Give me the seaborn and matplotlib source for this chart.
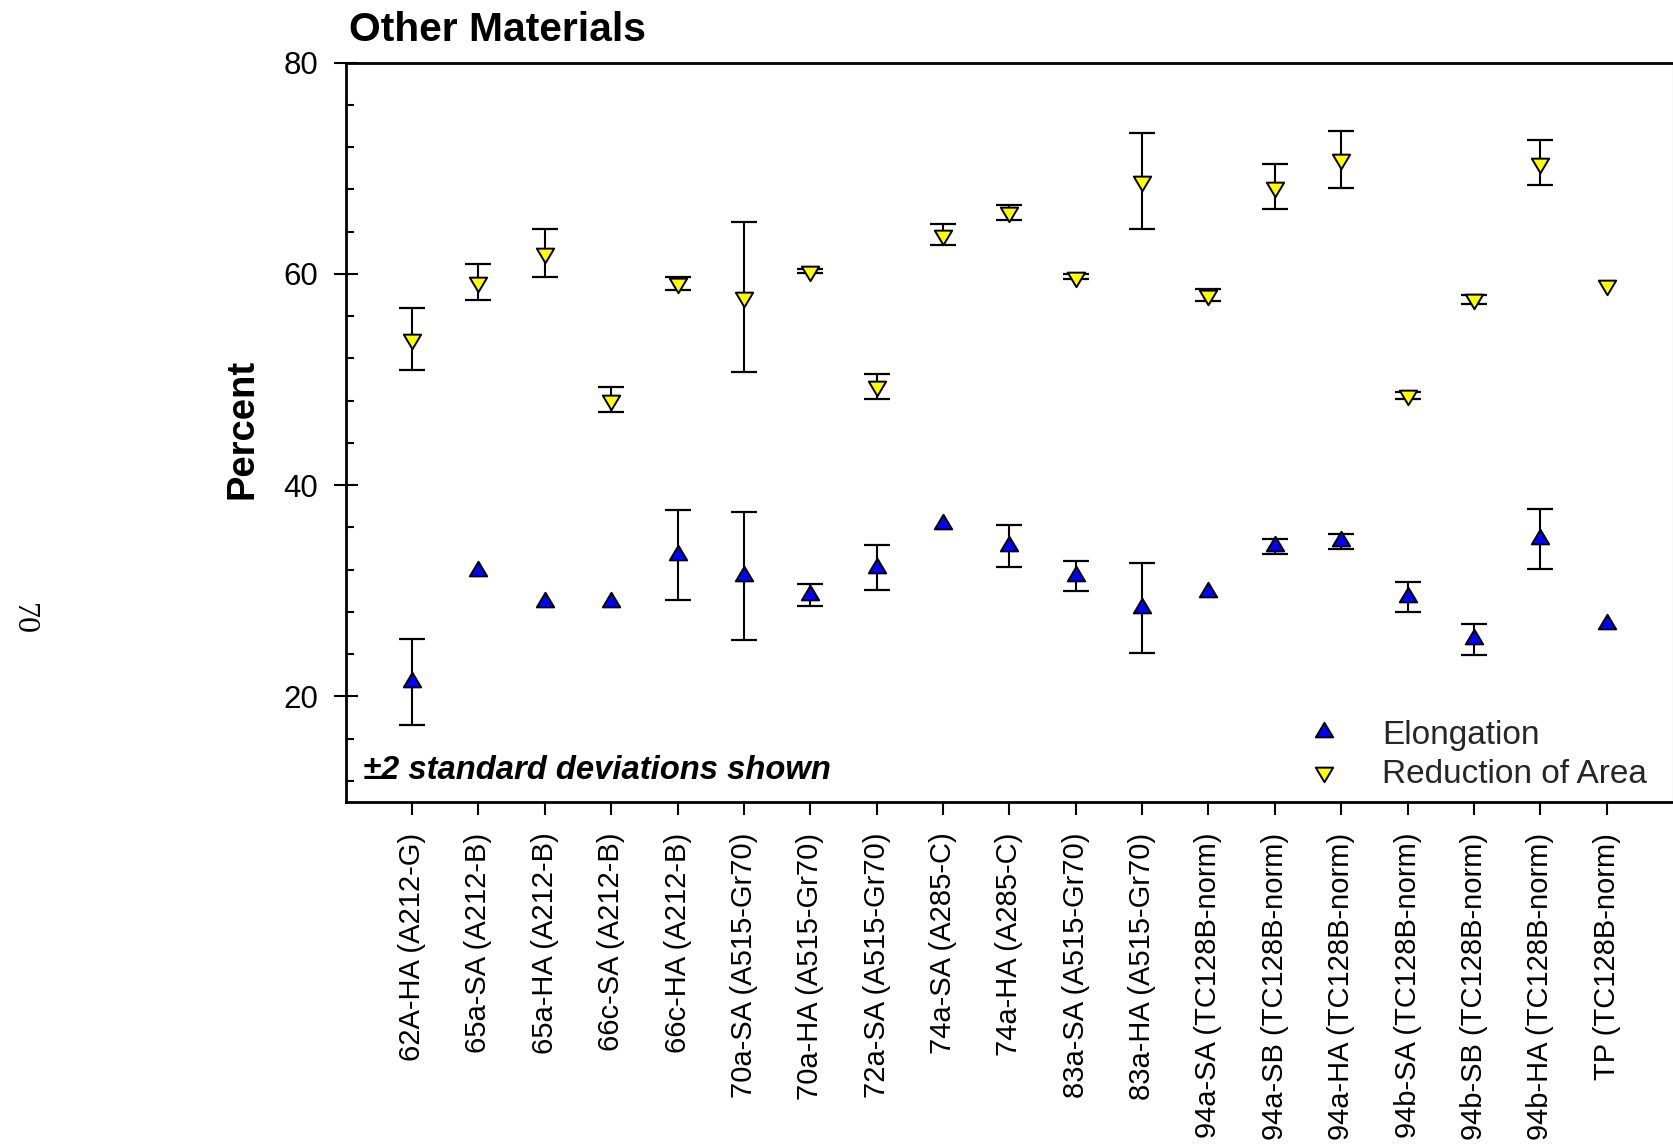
import numpy as np
import pandas as pd
import matplotlib
matplotlib.use("Agg")
import matplotlib.pyplot as plt
from matplotlib.markers import MarkerStyle
from matplotlib.lines import Line2D
from matplotlib.path import Path
from matplotlib.ticker import FixedLocator, MultipleLocator
import seaborn as sns

# Tensile ductility of the other plate materials, mean and +/-2 SD
specimens = [
    "62A-HA (A212-G)", "65a-SA (A212-B)", "65a-HA (A212-B)", "66c-SA (A212-B)",
    "66c-HA (A212-B)", "70a-SA (A515-Gr70)", "70a-HA (A515-Gr70)",
    "72a-SA (A515-Gr70)", "74a-SA (A285-C)", "74a-HA (A285-C)",
    "83a-SA (A515-Gr70)", "83a-HA (A515-Gr70)", "94a-SA (TC128B-norm)",
    "94a-SB (TC128B-norm)", "94a-HA (TC128B-norm)", "94b-SA (TC128B-norm)",
    "94b-SB (TC128B-norm)", "94b-HA (TC128B-norm)", "TP (TC128B-norm)",
]
elongation = [21.4, 31.9, 28.9, 28.9, 33.4, 31.4, 29.6, 32.2, 36.3, 34.25,
              31.4, 28.4, 29.9, 34.2, 34.7, 29.4, 25.4, 34.9, 26.9]
elongation_2sd = [4.07, np.nan, np.nan, np.nan, 4.27, 6.1, 1.0, 2.13, np.nan, 2.0,
                  1.42, 4.25, np.nan, 0.73, 0.71, 1.41, 1.46, 2.84, np.nan]
reduction_area = [53.85, 59.25, 61.95, 48.1, 59.1, 57.8, 60.3, 49.35, 63.73, 65.85,
                  59.75, 68.79, 58.0, 68.24, 70.86, 48.5, 57.6, 70.53, 58.97]
reduction_area_2sd = [2.97, 1.7, 2.26, 1.15, 0.6, 7.1, 0.2, 1.15, 1.0, 0.7,
                      0.25, 4.55, 0.57, 2.13, 2.7, 0.35, 0.43, 2.15, np.nan]

series_names = ["Elongation", "Reduction of Area"]
series_colors = {"Elongation": "#0000FF", "Reduction of Area": "#FFFF00"}

df = pd.concat([
    pd.DataFrame({"specimen": specimens, "value": elongation,
                  "err": elongation_2sd, "series": "Elongation"}),
    pd.DataFrame({"specimen": specimens, "value": reduction_area,
                  "err": reduction_area_2sd, "series": "Reduction of Area"}),
], ignore_index=True)

sns.set_theme(style="ticks")
plt.rcParams["font.family"] = ["Liberation Sans", "DejaVu Sans"]
plt.rcParams["axes.linewidth"] = 2.0

# triangles whose centroid sits on the data value
tri_up = MarkerStyle(Path([(-1.0, -0.56), (1.0, -0.56), (0.0, 1.12), (0.0, 0.0)],
                          closed=True), joinstyle="miter")
tri_down = MarkerStyle(Path([(-1.0, 0.56), (1.0, 0.56), (0.0, -1.12), (0.0, 0.0)],
                            closed=True), joinstyle="miter")
series_markers = {"Elongation": tri_up, "Reduction of Area": tri_down}

MS = 14.0

fig = plt.figure(figsize=(16.74, 11.44), dpi=100)
ax = fig.add_axes([0.2065, 0.29895, 0.9994 - 0.2065, 0.94519 - 0.29895])

for name in series_names:
    sub = df[df["series"] == name]
    sns.scatterplot(data=sub, x="specimen", y="value", ax=ax,
                    marker=series_markers[name], color=series_colors[name],
                    s=MS ** 2, edgecolor="black", linewidth=1.4,
                    legend=False, zorder=3)

for name in series_names:
    sub = df[(df["series"] == name) & df["err"].notna()]
    ax.errorbar(sub["specimen"], sub["value"], yerr=sub["err"], fmt="none",
                ecolor="black", elinewidth=1.5, capsize=9.4, capthick=1.6,
                zorder=2)

ax.set_xlim(-1, 19)
ax.set_ylim(10, 80)
ax.yaxis.set_major_locator(FixedLocator([20, 40, 60, 80]))
ax.yaxis.set_minor_locator(MultipleLocator(4))
ax.set_xlabel("")

ax.tick_params(axis="y", which="major", direction="inout", length=17.6,
               width=1.5, labelsize=22.5, pad=11.0, color="black",
               labelcolor="black", left=True, right=False)
ax.tick_params(axis="y", which="minor", direction="in", length=5.8,
               width=1.5, color="black", left=True, right=False)
ax.tick_params(axis="x", which="major", direction="out", length=9.1,
               width=1.5, labelsize=21, pad=13, labelrotation=90,
               color="black", labelcolor="black", top=False)
ax.tick_params(axis="x", which="minor", bottom=False, top=False)

for side in ["left", "bottom", "top"]:
    ax.spines[side].set_color("black")
    ax.spines[side].set_linewidth(2.0)
ax.spines["right"].set_color("#9a9a9a")
ax.spines["right"].set_linewidth(0.8)

ax.set_ylabel("Percent", fontsize=27.5, fontweight="bold", color="black")
ax.yaxis.set_label_coords(-0.07805, 0.505)
ax.yaxis.label.set_va("center")

ax.text(0.0022, 1.0299, "Other Materials", transform=ax.transAxes,
        fontsize=29.3, fontweight="bold", ha="left", va="baseline", color="black")
ax.text(0.0133, 0.0307, "\u00b12 standard deviations shown", transform=ax.transAxes,
        fontsize=23.6, fontweight="bold", fontstyle="italic", ha="left",
        va="baseline", color="black")

handles = [
    Line2D([], [], linestyle="none", marker=series_markers[n], markersize=MS,
           markerfacecolor=series_colors[n], markeredgecolor="black",
           markeredgewidth=1.4)
    for n in series_names
]
ax.legend(handles, series_names, loc="upper left", bbox_to_anchor=(0.7242, 0.1109),
          frameon=False, fontsize=24, handlelength=1.0, handletextpad=1.25,
          labelspacing=0.245, borderpad=0, borderaxespad=0)

fig.text(23 / 1674, 1 - 619 / 1144, "70", rotation=270, family="Liberation Serif",
         fontsize=23, ha="center", va="center", color="black")

fig.savefig("out.png", dpi=100, facecolor="white")
